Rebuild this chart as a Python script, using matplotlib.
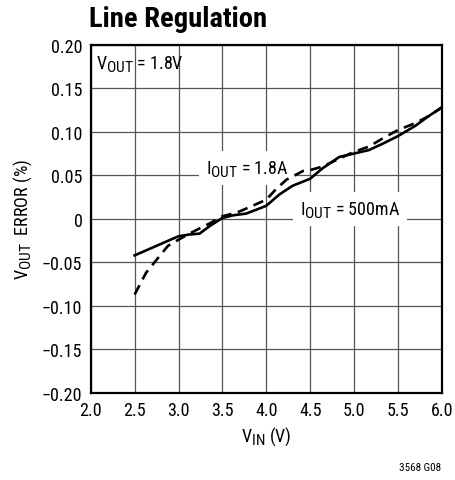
import numpy as np
import matplotlib
matplotlib.use("Agg")
from matplotlib import pyplot as plt
import matplotlib._mathtext as mt

# bigger subscripts, closer to the datasheet look
mt.SHRINK_FACTOR = 0.85

plt.rcParams['font.family'] = ['Roboto Condensed', 'DejaVu Sans']
plt.rcParams['mathtext.fontset'] = 'custom'
plt.rcParams['mathtext.rm'] = 'Roboto Condensed'
plt.rcParams['mathtext.it'] = 'Roboto Condensed'

# 500mA curve (solid)
vin_500 = [2.5, 2.75, 3.0, 3.125, 3.24, 3.36, 3.5, 3.62, 3.77, 3.9, 4.0, 4.15, 4.3, 4.5,
           4.64, 4.83, 5.0, 5.17, 5.32, 5.5, 5.7, 5.85, 6.0]
err_500 = [-0.042, -0.031, -0.020, -0.018, -0.017, -0.008, 0.001, 0.004, 0.006, 0.011, 0.015, 0.028, 0.038, 0.046,
           0.058, 0.071, 0.075, 0.079, 0.086, 0.095, 0.107, 0.118, 0.128]

# 1.8A curve (dashed)
vin_18 = [2.5, 2.63, 2.75, 2.88, 3.0, 3.125, 3.24, 3.36, 3.5, 3.66, 3.8, 4.0, 4.11, 4.23, 4.42, 4.5,
          4.64, 4.83, 5.0, 5.17, 5.32, 5.5, 5.7, 5.85, 6.0]
err_18 = [-0.087, -0.062, -0.047, -0.031, -0.024, -0.017, -0.011, -0.005, 0.003, 0.007, 0.013, 0.022, 0.034, 0.045, 0.055, 0.056,
          0.060, 0.069, 0.077, 0.083, 0.092, 0.102, 0.110, 0.118, 0.128]

xticks = [2.0, 2.5, 3.0, 3.5, 4.0, 4.5, 5.0, 5.5, 6.0]
xlabels = ['2.0', '2.5', '3.0', '3.5', '4.0', '4.5', '5.0', '5.5', '6.0']
yticks = [-0.20, -0.15, -0.10, -0.05, 0, 0.05, 0.10, 0.15, 0.20]
ylabels = ['\u22120.20', '\u22120.15', '\u22120.10', '\u22120.05', '0', '0.05', '0.10', '0.15', '0.20']

fig = plt.figure(figsize=(4.56, 4.81), dpi=100)
ax = fig.add_axes([0.199, 0.181, 0.77, 0.724])

ax.plot(vin_500, err_500, color='black', lw=1.9, zorder=4)
ax.plot(vin_18, err_18, color='black', lw=1.9, dashes=(4, 2.5), zorder=4)

ax.set_xlim(2.0, 6.0)
ax.set_ylim(-0.20, 0.20)
ax.set_xticks(xticks)
ax.set_xticklabels(xlabels)
ax.set_yticks(yticks)
ax.set_yticklabels(ylabels)
ax.tick_params(length=0, labelsize=13, pad=6)
ax.grid(True, color='#555555', lw=0.9)
ax.set_axisbelow(True)
for s in ax.spines.values():
    s.set_linewidth(1.6)

box = dict(facecolor='white', edgecolor='none', pad=5)
ax.text(2.06, 0.179, r'V$_\mathrm{OUT}$ = 1.8V', fontsize=13, va='center', ha='left')
ax.text(3.78, 0.058, r'I$_\mathrm{OUT}$ = 1.8A', fontsize=13, va='center', ha='center', bbox=box, zorder=3)
ax.text(4.95, 0.0114, r'I$_\mathrm{OUT}$ = 500mA', fontsize=13, va='center', ha='center', bbox=box, zorder=3)

ax.set_xlabel(r'V$_\mathrm{IN}$ (V)', fontsize=13, labelpad=4)
ax.set_ylabel(r'V$_\mathrm{OUT}$  ERROR (%)', fontsize=13, labelpad=6)

fig.text(0.195, 0.960, 'Line Regulation', fontsize=20.5, fontweight='bold', ha='left', va='center')
fig.text(0.968, 0.028, '3568 G08', fontsize=8, ha='right', va='center')

fig.savefig('out.png', dpi=100)
